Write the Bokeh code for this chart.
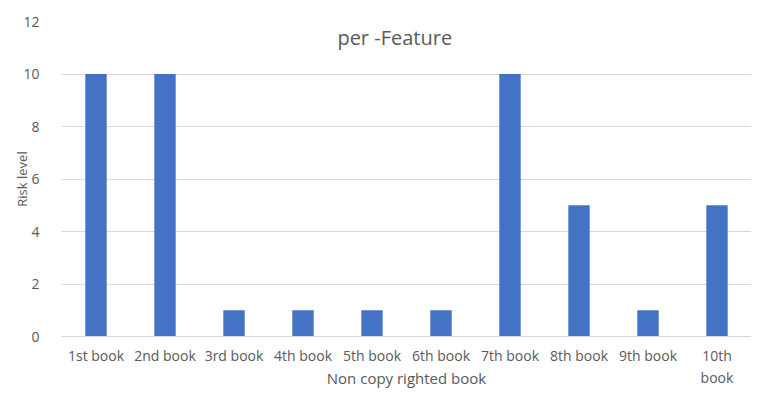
from bokeh.plotting import figure
from bokeh.models import Label, Range1d, FactorRange
from bokeh.embed import file_html
from bokeh.resources import INLINE

categories = ["1st book", "2nd book", "3rd book", "4th book", "5th book",
              "6th book", "7th book", "8th book", "9th book", "10th\nbook"]
risk_values = [10, 10, 1, 1, 1, 1, 10, 5, 1, 5]
y_ticks = [0, 2, 4, 6, 8, 10, 12]
title_text = "per -Feature"
x_label = "Non copy righted book"
y_label = "Risk level"

FONT = "Open Sans"
TXT = "#595959"

p = figure(width=751, height=391, x_range=FactorRange(*categories, range_padding=0),
           y_range=Range1d(0, 12), output_backend="svg", toolbar_location=None,
           min_border_left=61, min_border_right=0, min_border_top=21, min_border_bottom=55)

p.vbar(x=categories, top=risk_values, width=0.31, color="#4472C4", line_color=None)

p.outline_line_color = None
p.xgrid.grid_line_color = None
p.ygrid.grid_line_color = "#d9d9d9"
p.ygrid.grid_line_width = 1

p.yaxis.ticker = y_ticks
p.yaxis.axis_line_color = None
p.yaxis.major_tick_line_color = None
p.yaxis.minor_tick_line_color = None
p.yaxis.major_label_text_font = FONT
p.yaxis.major_label_text_font_size = "14px"
p.yaxis.major_label_text_color = TXT
p.yaxis.major_label_standoff = 16
p.yaxis.axis_label = y_label
p.yaxis.axis_label_text_font = FONT
p.yaxis.axis_label_text_font_size = "13px"
p.yaxis.axis_label_text_font_style = "normal"
p.yaxis.axis_label_text_color = TXT
p.yaxis.axis_label_standoff = -11

p.xaxis.axis_line_color = "#d9d9d9"
p.xaxis.major_tick_line_color = None
p.xaxis.minor_tick_line_color = None
p.xaxis.major_label_text_font = FONT
p.xaxis.major_label_text_font_size = "14px"
p.xaxis.major_label_text_color = TXT
p.xaxis.major_label_standoff = 3
p.xaxis.axis_label = x_label
p.xaxis.axis_label_text_font = FONT
p.xaxis.axis_label_text_font_size = "15px"
p.xaxis.axis_label_text_font_style = "normal"
p.xaxis.axis_label_text_color = TXT
p.xaxis.axis_label_standoff = -22

p.add_layout(Label(x=4.83, y=11.4, text=title_text, text_align="center",
                   text_baseline="middle", text_font=FONT, text_font_size="20px",
                   text_color=TXT))

open("out.html", "w").write(file_html(p, INLINE))
